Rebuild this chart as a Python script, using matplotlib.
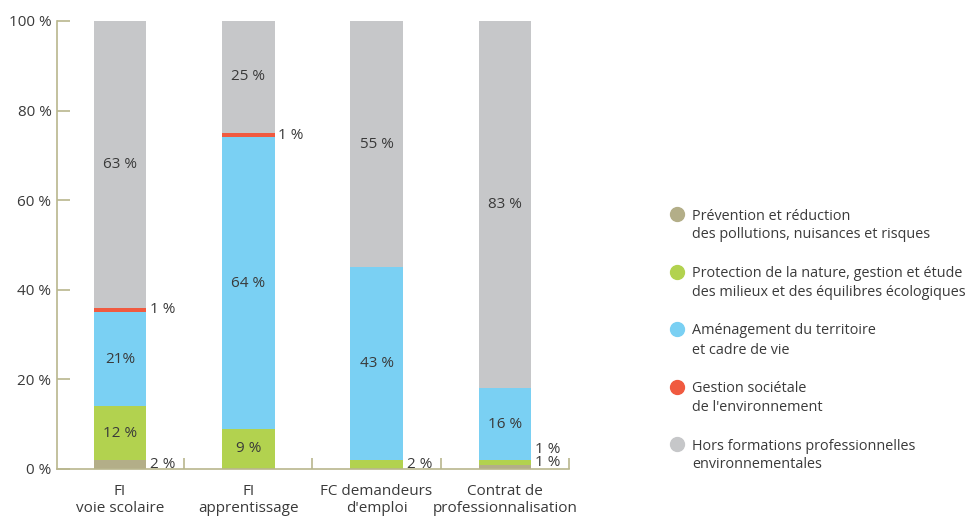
import matplotlib
matplotlib.use("Agg")
from matplotlib import pyplot as plt
from matplotlib.lines import Line2D
from matplotlib.ticker import FixedLocator

plt.rcParams['font.family'] = ['Open Sans', 'DejaVu Sans']

# categories (x axis)
categories = ['FI\nvoie scolaire', 'FI\napprentissage', 'FC demandeurs\nd\'emploi', 'Contrat de\nprofessionnalisation']

# series, bottom to top (heights as drawn, in %)
series_names = [
    'Prévention et réduction\ndes pollutions, nuisances et risques',
    'Protection de la nature, gestion et étude\ndes milieux et des équilibres écologiques',
    'Aménagement du territoire\net cadre de vie',
    'Gestion sociétale\nde l\'environnement',
    'Hors formations professionnelles\nenvironnementales',
]
prevention = [2, 0, 0, 1]
protection = [12, 9, 2, 1]
amenagement = [21, 65, 43, 16]
gestion = [1, 1, 0, 0]
hors = [64, 25, 55, 82]

# printed labels (None = no label)
label_prevention = ['2 %', None, None, '1 %']
label_protection = ['12 %', '9 %', '2 %', '1 %']
label_amenagement = ['21%', '64 %', '43 %', '16 %']
label_gestion = ['1 %', '1 %', None, None]
label_hors = ['63 %', '25 %', '55 %', '83 %']

colors = ['#b3ae88', '#b2d24f', '#7ad0f3', '#f05a40', '#c6c7c9']
axis_color = '#b9b68e'
text_color = '#3a3a3a'

series = [prevention, protection, amenagement, gestion, hors]
labels = [label_prevention, label_protection, label_amenagement, label_gestion, label_hors]

fig = plt.figure(figsize=(9.69, 5.18), dpi=100)
ax = fig.add_axes([57 / 969, 1 - 469 / 518, 512 / 969, 448 / 518])

x = list(range(len(categories)))
bar_w = 0.41
bottoms = [0] * len(categories)
for s, vals in enumerate(series):
    ax.bar(x, vals, bar_w, bottom=bottoms, color=colors[s], linewidth=0)
    for i, v in enumerate(vals):
        lab = labels[s][i]
        if lab is not None:
            yc = bottoms[i] + v / 2
            if v >= 5:
                ax.text(i, yc, lab, ha='center', va='center', fontsize=11, color=text_color)
            else:
                # small segments: label to the right of the bar
                if i == 3:
                    yc = 1.4 if s == 0 else 4.4
                ax.text(i + bar_w / 2 + 0.03, yc, lab, ha='left', va='center',
                        fontsize=11, color=text_color)
    bottoms = [b + v for b, v in zip(bottoms, vals)]

ax.set_xlim(-0.49, 3.5)
ax.set_ylim(0, 100)
for sp in ['top', 'right']:
    ax.spines[sp].set_visible(False)
for sp in ['left', 'bottom']:
    ax.spines[sp].set_color(axis_color)
    ax.spines[sp].set_linewidth(1.2)

ax.set_yticks([0, 20, 40, 60, 80, 100])
ax.set_yticklabels(['0 %', '20 %', '40 %', '60 %', '80 %', '100 %'])
ax.tick_params(axis='y', direction='in', length=9, width=1.2, color=axis_color,
               labelsize=11, labelcolor=text_color, pad=4)

ax.set_xticks(x)
ax.set_xticklabels(categories, linespacing=1.2)
ax.tick_params(axis='x', which='major', length=0, labelsize=11, labelcolor=text_color, pad=11)
ax.xaxis.set_minor_locator(FixedLocator([0.5, 1.5, 2.5, 3.5]))
ax.tick_params(axis='x', which='minor', direction='in', length=8, width=1.2, color=axis_color)

# legend, drawn by hand on the right
for k, name in enumerate(series_names):
    y0 = 214 + k * 57.5
    fig.add_artist(Line2D([677 / 969], [1 - y0 / 518], marker='o', markersize=10,
                          color=colors[k], linestyle='none', transform=fig.transFigure))
    for j, line in enumerate(name.split('\n')):
        fig.text(692 / 969, 1 - (y0 + 19 * j) / 518, line, ha='left', va='center_baseline',
                 fontsize=10.4, color=text_color)

fig.savefig('out.png', dpi=100)
